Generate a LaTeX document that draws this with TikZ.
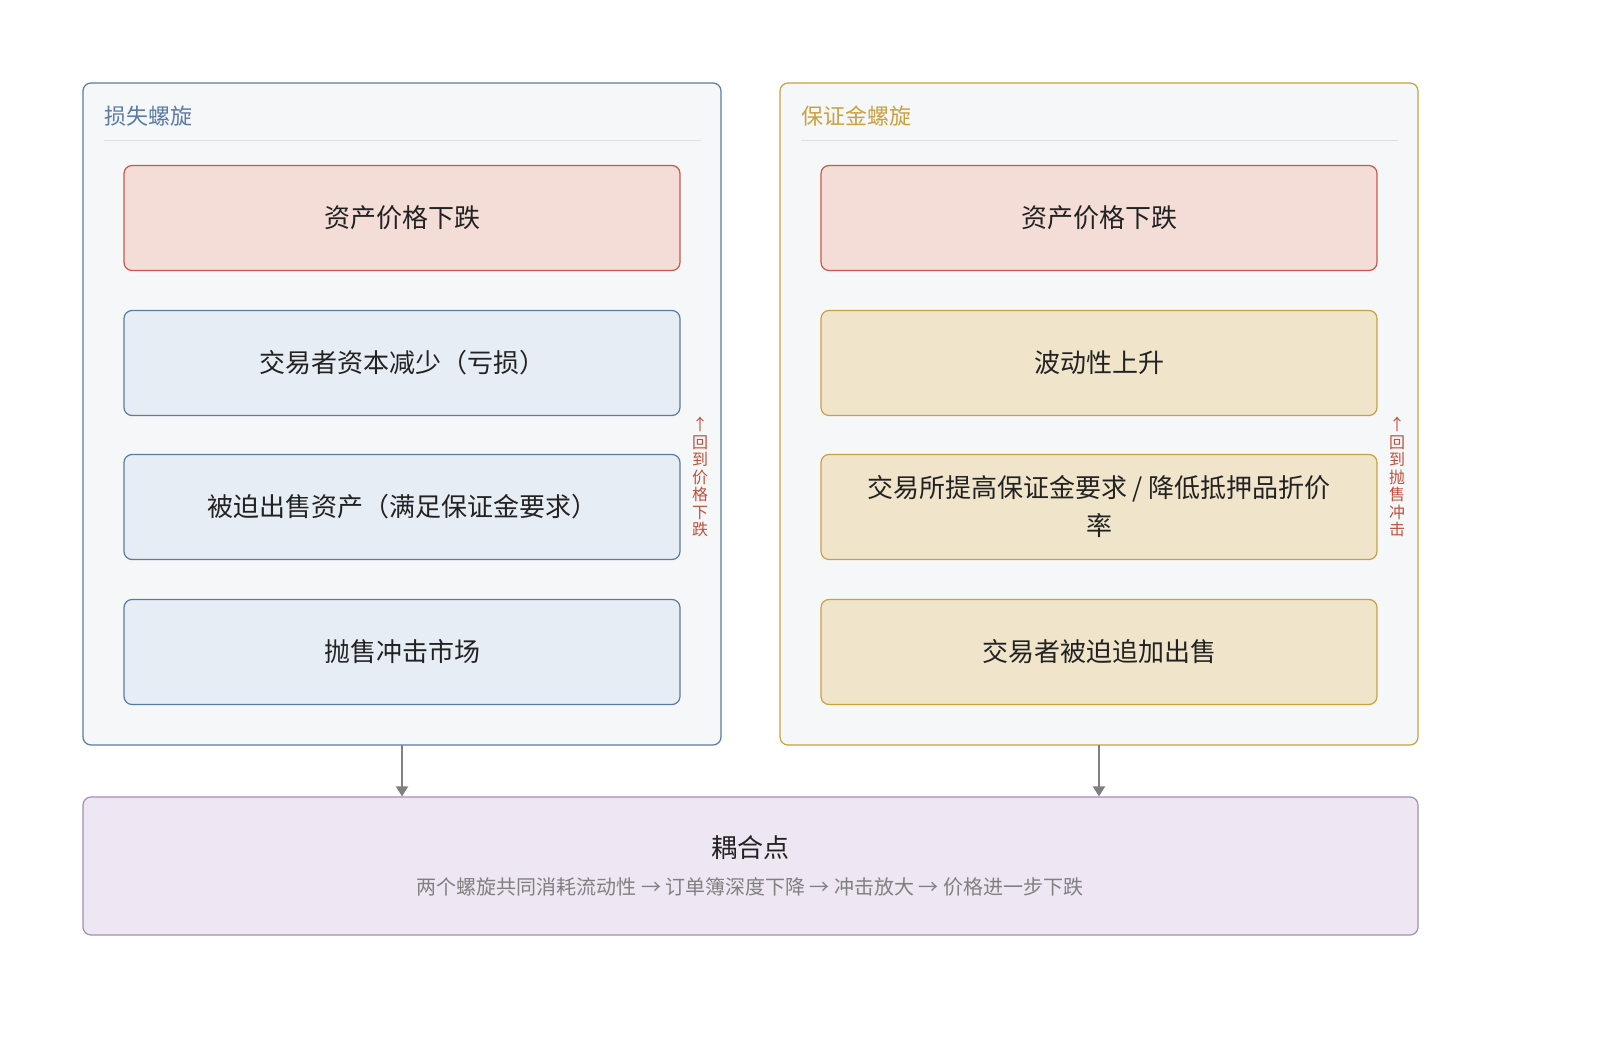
\documentclass[tikz,border=0pt]{standalone}
\usepackage{fontspec}
\setmainfont{Noto Sans CJK SC}
\usetikzlibrary{arrows.meta}
\definecolor{redfill}{HTML}{F3DDD6}
\definecolor{reddraw}{HTML}{C8594A}
\definecolor{bluefill}{HTML}{E7EDF5}
\definecolor{bluedraw}{HTML}{5B7BA5}
\definecolor{yelfill}{HTML}{F0E5CB}
\definecolor{yeldraw}{HTML}{C9A13F}
\definecolor{purfill}{HTML}{EEE6F2}
\definecolor{purdraw}{HTML}{A58DB5}
\definecolor{panelfill}{HTML}{F6F7F9}
\definecolor{txt}{HTML}{222222}
\definecolor{backred}{HTML}{C0503C}
\tikzset{
  panel/.style={rounded corners=8pt, fill=panelfill, line width=1.2pt},
  stagebox/.style={rounded corners=8pt, line width=1.2pt, minimum width=556pt, minimum height=105pt,
    inner sep=0pt, align=center, font=\fontsize{26}{38}\selectfont, text=txt},
  redstep/.style={stagebox, fill=redfill, draw=reddraw},
  bluestep/.style={stagebox, fill=bluefill, draw=bluedraw},
  yelstep/.style={stagebox, fill=yelfill, draw=yeldraw},
  back/.style={text=backred, font=\fontsize{16}{17.5}\selectfont, align=center, inner sep=0pt},
  link/.style={draw=gray, line width=2pt, -{Triangle[length=10pt,width=12pt]}}
}
\begin{document}
\begin{tikzpicture}[x=1pt,y=-1pt]
\useasboundingbox (0,0) rectangle (1600,1040);
% left spiral
\draw[panel, draw=bluedraw] (83,83) rectangle (721,745);
\node[anchor=west, text=bluedraw, font=\fontsize{22}{26}\selectfont, inner sep=0pt] (ltitle) at (104,116) {损失螺旋};
\draw[black!12, line width=1pt] (104,141) -- (701,141);
\node[redstep] (l1) at (402,218) {资产价格下跌};
\node[bluestep] (l2) at (402,363) {交易者资本减少（亏损）};
\node[bluestep] (l3) at (402,507) {被迫出售资产（满足保证金要求）};
\node[bluestep] (l4) at (402,652) {抛售冲击市场};
\node[back] (lback) at (700,477) {↑\\回\\到\\价\\格\\下\\跌};
% right spiral
\draw[panel, draw=yeldraw] (780,83) rectangle (1418,745);
\node[anchor=west, text=yeldraw, font=\fontsize{22}{26}\selectfont, inner sep=0pt] (rtitle) at (801,116) {保证金螺旋};
\draw[black!12, line width=1pt] (801,141) -- (1398,141);
\node[redstep] (r1) at (1099,218) {资产价格下跌};
\node[yelstep] (r2) at (1099,363) {波动性上升};
\node[yelstep] (r3) at (1099,507) {交易所提高保证金要求 / 降低抵押品折价\\率};
\node[yelstep] (r4) at (1099,652) {交易者被迫追加出售};
\node[back] (rback) at (1397,477) {↑\\回\\到\\抛\\售\\冲\\击};
% coupling
\node[rounded corners=8pt, fill=purfill, draw=purdraw, line width=1.2pt, minimum width=1335pt, minimum height=138pt] (couple) at (750.5,866) {};
\node[font=\fontsize{26}{30}\selectfont, text=txt, inner sep=0pt] (ctitle) at (750,848) {耦合点};
\node[font=\fontsize{20}{24}\selectfont, text=gray, inner sep=0pt] (csub) at (750,887) {两个螺旋共同消耗流动性 → 订单簿深度下降 → 冲击放大 → 价格进一步下跌};
\coordinate (lbot) at (402,745);
\coordinate (rbot) at (1099,745);
\draw[link] (lbot) -- (lbot |- couple.north);
\draw[link] (rbot) -- (rbot |- couple.north);
\end{tikzpicture}
\end{document}
